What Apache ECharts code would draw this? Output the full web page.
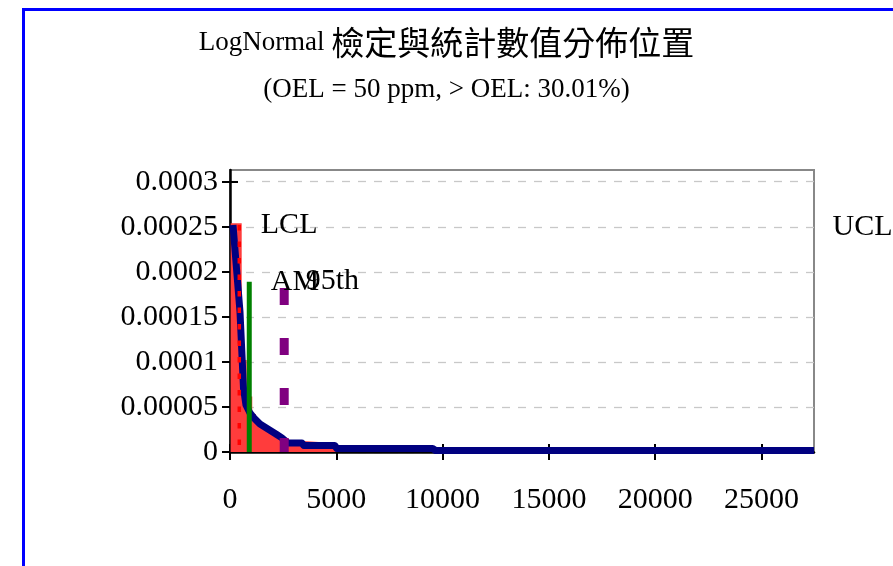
<!DOCTYPE html>
<html>
<head>
<meta charset="utf-8">
<script src="https://cdn.jsdelivr.net/npm/echarts@6/dist/echarts.min.js"></script>
<style>
  html, body { margin: 0; padding: 0; background: #fff; }
  #chart { width: 893px; height: 566px; }
</style>
</head>
<body>
<div id="chart"></div>
<script>
// 刻度
const xTicks = [0, 5000, 10000, 15000, 20000, 25000];
const yTicks = [0, 0.00005, 0.0001, 0.00015, 0.0002, 0.00025, 0.0003];
const xMax = 27470;
const yMax = 0.000313;

// 直方圖（每個區間起點、高度）
const histEdges = [30, 550, 785, 1047, 1220, 1643, 1958, 2254, 2535, 3427, 4930, 9530, 27470];
const histHeights = [0.000254, 0.000102, 0.0000615, 0.0000422, 0.000031, 0.000024, 0.0000189, 0.0000156, 0.0000122, 0.00001, 0.0000067, 0.0000004];

// LogNormal 機率密度
const pdfX = [141, 470, 634, 751, 939, 1127, 1409, 1784, 2160, 2441, 2723, 3380, 3474, 4930, 5024, 9531, 9672, 27470];
const pdfY = [0.000252, 0.0001556, 0.0000711, 0.0000522, 0.0000433, 0.0000378, 0.0000311, 0.0000256, 0.00002, 0.0000156, 0.00001, 0.00001, 0.0000072, 0.0000072, 0.0000039, 0.0000039, 0.0000017, 0.0000017];

// 統計數值位置
const lcl = {x: 437, top: 0.000252};
const am = {x: 906, top: 0.000189};
const p95 = {x: 2550, top: 0.000182};
const ucl = {x: 27470, top: 0.00025};

const serif = "'Liberation Serif', 'Times New Roman', serif";
const cjk = "'Noto Sans CJK TC', 'Noto Sans CJK SC', sans-serif";
const fs = 30; // 軸與標籤字級

const chart = echarts.init(document.getElementById('chart'));

// 直方圖用階梯線的面積畫
const histData = histHeights.map((h, i) => [histEdges[i], h]);
histData.push([histEdges[histEdges.length - 1], histHeights[histHeights.length - 1]]);

const pdfData = pdfX.map((x, i) => [x, pdfY[i]]);

const labelStyle = {color: '#000', fontFamily: serif, fontSize: fs};

// 垂直線：上端點帶標籤
const vLine = (name, p, color, width, dash, label, offset) => ({
  name,
  type: 'line',
  data: [
    {value: [p.x, p.top], label: {show: true, formatter: label, offset: offset || [0, 0]}},
    [p.x, 0]
  ],
  symbol: 'circle',
  symbolSize: 1,
  itemStyle: {color: 'rgba(0,0,0,0)'},
  lineStyle: {color, width, type: dash, cap: 'butt'},
  label: {show: false, position: 'right', distance: 21, ...labelStyle},
  z: 5
});

const axisCommon = {
  type: 'value',
  axisLine: {show: false},
  axisLabel: {show: false},
  splitLine: {show: false}
};

const option = {
  animation: false,
  backgroundColor: '#fff',
  title: [{
    text: '{a|LogNormal }{b|檢定與統計數值分佈位置}',
    left: 'center',
    top: 21,
    textStyle: {
      fontWeight: 'normal',
      rich: {
        a: {fontFamily: serif, fontSize: 27, fontWeight: 'normal', color: '#000'},
        b: {fontFamily: cjk, fontSize: 33, fontWeight: 'normal', color: '#000'}
      }
    }
  }, {
    text: '(OEL = 50 ppm, > OEL: 30.01%)',
    left: 'center',
    top: 71,
    textStyle: {fontFamily: serif, fontWeight: 'normal', fontSize: 27, color: '#000'}
  }],
  graphic: [{
    type: 'rect',
    shape: {x: 23.5, y: 9.5, width: 1000, height: 1000},
    style: {fill: 'none', stroke: '#0000ff', lineWidth: 3},
    silent: true
  }],
  grid: {
    left: 230,
    right: 79,
    top: 170,
    bottom: 114,
    show: true,
    borderColor: '#888',
    borderWidth: 2,
    backgroundColor: 'transparent'
  },
  xAxis: [{
    type: 'value',
    min: 0,
    max: xMax,
    interval: 5000,
    axisLine: {show: true, onZero: false, lineStyle: {color: '#000', width: 2.5}},
    axisTick: {show: true, length: 8, customValues: xTicks, lineStyle: {color: '#000', width: 2}},
    axisLabel: {customValues: xTicks, margin: 33, ...labelStyle, formatter: v => String(v)},
    splitLine: {show: false}
  }, {
    ...axisCommon,
    min: 0,
    max: xMax,
    interval: 5000,
    position: 'bottom',
    axisTick: {show: true, inside: true, length: 8, customValues: xTicks, lineStyle: {color: '#000', width: 2}}
  }],
  yAxis: [{
    type: 'value',
    min: 0,
    max: yMax,
    interval: 0.00005,
    axisLine: {show: true, onZero: false, lineStyle: {color: '#000', width: 2.5}},
    axisTick: {show: true, length: 8, customValues: yTicks, lineStyle: {color: '#000', width: 2}},
    axisLabel: {
      customValues: yTicks,
      margin: 12,
      ...labelStyle,
      formatter: v => String(Number(v.toPrecision(6)))
    },
    splitLine: {show: true, lineStyle: {color: '#c8c8c8', width: 1.3, type: [8, 8]}}
  }, {
    ...axisCommon,
    min: 0,
    max: yMax,
    interval: 0.00005,
    position: 'left',
    axisTick: {show: true, inside: true, length: 8, customValues: yTicks, lineStyle: {color: '#000', width: 2}}
  }],
  series: [
    {
      name: '直方圖',
      type: 'line',
      step: 'end',
      data: histData,
      symbol: 'none',
      lineStyle: {width: 0},
      areaStyle: {color: '#ff3c3c', opacity: 1},
      z: 2
    },
    {
      name: 'LogNormal',
      type: 'line',
      data: pdfData,
      symbol: 'none',
      lineStyle: {color: '#000080', width: 7, join: 'round'},
      z: 3
    },
    vLine('LCL', lcl, '#ff0000', 3.5, [5.5, 11], 'LCL'),
    vLine('AM', am, '#008000', 5, 'solid', 'AM'),
    vLine('95th', p95, '#800080', 9, [17, 33], '95th', [0, -7]),
    {
      name: 'UCL',
      type: 'line',
      data: [{value: [ucl.x, ucl.top], label: {show: true, formatter: 'UCL'}}],
      symbol: 'circle',
      symbolSize: 1,
      itemStyle: {color: 'rgba(0,0,0,0)'},
      lineStyle: {width: 0},
      clip: false,
      label: {position: 'right', distance: 18, ...labelStyle},
      z: 5
    }
  ]
};

chart.setOption(option);
</script>
</body>
</html>
